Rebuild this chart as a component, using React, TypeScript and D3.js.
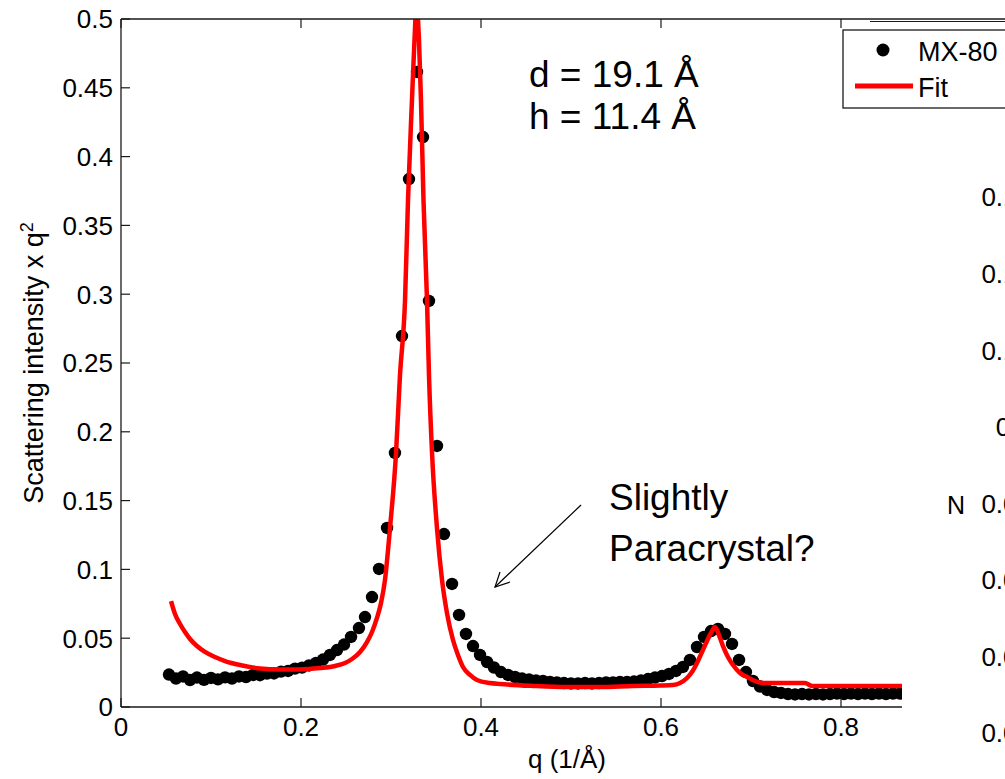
import React from "react";
import * as d3 from "d3";

// ---- data ----
const qData = [
  0.0533, 0.0611, 0.0689, 0.0767, 0.0844, 0.0922, 0.1, 0.1078, 0.1156, 0.1233,
  0.1311, 0.1389, 0.1467, 0.1544, 0.1622, 0.17, 0.1778, 0.1856, 0.1933, 0.2011,
  0.2089, 0.2167, 0.2244, 0.2322, 0.24, 0.2478, 0.2556, 0.2644, 0.2711, 0.2789,
  0.2867, 0.2956, 0.3044, 0.3122, 0.32, 0.3289, 0.3356, 0.3422, 0.3511, 0.3589,
  0.3678, 0.3756, 0.3833, 0.3911, 0.3989, 0.4067, 0.4144, 0.4222, 0.43, 0.4378,
  0.4456, 0.4533, 0.4611, 0.4689, 0.4767, 0.4844, 0.4922, 0.5, 0.5078, 0.5156,
  0.5233, 0.5311, 0.5389, 0.5467, 0.5544, 0.5622, 0.57, 0.5778, 0.5856, 0.5933,
  0.6011, 0.6089, 0.6167, 0.6244, 0.6322, 0.64, 0.6478, 0.6556, 0.6633, 0.6711,
  0.6789, 0.6867, 0.6944, 0.7022, 0.71, 0.7178, 0.7256, 0.7333, 0.7411, 0.7489,
  0.7567, 0.7644, 0.7722, 0.78, 0.7878, 0.7956, 0.8033, 0.8111, 0.8189, 0.8267,
  0.8344, 0.8422, 0.85, 0.8578, 0.8656,
];
const iData = [
  0.0236, 0.0207, 0.0222, 0.0196, 0.0214, 0.0197, 0.0211, 0.0201, 0.0215, 0.0207,
  0.0222, 0.0218, 0.0233, 0.0231, 0.0243, 0.0244, 0.0257, 0.0262, 0.0279, 0.0286,
  0.0302, 0.032, 0.0345, 0.0378, 0.0414, 0.0454, 0.0509, 0.0574, 0.0654, 0.0799,
  0.1003, 0.1301, 0.1846, 0.2696, 0.3837, 0.4615, 0.4142, 0.2951, 0.1897, 0.1257,
  0.0894, 0.0669, 0.0531, 0.0443, 0.0378, 0.0327, 0.0287, 0.0254, 0.0233, 0.0218,
  0.0207, 0.02, 0.0193, 0.0189, 0.0182, 0.0178, 0.0174, 0.0171, 0.0171, 0.0174,
  0.0171, 0.0174, 0.0178, 0.0178, 0.0182, 0.0182, 0.0185, 0.0193, 0.0203, 0.0214,
  0.0225, 0.024, 0.0262, 0.0291, 0.0342, 0.0436, 0.0509, 0.0552, 0.0567, 0.0531,
  0.0458, 0.0342, 0.0254, 0.0189, 0.0149, 0.0124, 0.0109, 0.0102, 0.0094, 0.0091,
  0.0094, 0.0091, 0.0094, 0.0091, 0.0094, 0.0098, 0.0094, 0.0098, 0.0094, 0.0098,
  0.0094, 0.0098, 0.0094, 0.0098, 0.0098,
];
const qFit = [
  0.0556, 0.06, 0.0656, 0.0711, 0.0767, 0.0844, 0.0933, 0.1044, 0.1156, 0.1322,
  0.1544, 0.1767, 0.1989, 0.2211, 0.2378, 0.2489, 0.2567, 0.2656, 0.2733, 0.2789,
  0.2844, 0.2889, 0.2933, 0.2989, 0.3056, 0.31, 0.3156, 0.3189, 0.3233, 0.3261,
  0.3283, 0.3311, 0.3333, 0.3361, 0.34, 0.3422, 0.3456, 0.3511, 0.3567, 0.3622,
  0.3689, 0.3744, 0.38, 0.3878, 0.3956, 0.41, 0.4211, 0.4578, 0.4956, 0.5322,
  0.5689, 0.5989, 0.6133, 0.6211, 0.6289, 0.6344, 0.64, 0.6456, 0.6511, 0.6556,
  0.66, 0.6644, 0.6689, 0.6744, 0.68, 0.6878, 0.6956, 0.7044, 0.7133, 0.76,
  0.7678, 1.0,
];
const iFit = [
  0.077, 0.0676, 0.0603, 0.0545, 0.0494, 0.0443, 0.04, 0.0363, 0.0334, 0.0305,
  0.028, 0.0273, 0.0273, 0.0283, 0.0298, 0.032, 0.0349, 0.04, 0.0472, 0.0545,
  0.0647, 0.0756, 0.0923, 0.1301, 0.1846, 0.2413, 0.2958, 0.3685, 0.4411, 0.4847,
  0.5102, 0.4847, 0.4411, 0.3685, 0.2958, 0.2413, 0.1846, 0.1301, 0.0923, 0.0683,
  0.0487, 0.0378, 0.0291, 0.0233, 0.0196, 0.0174, 0.0167, 0.0153, 0.0145, 0.0145,
  0.0153, 0.0156, 0.016, 0.0174, 0.0211, 0.0254, 0.032, 0.04, 0.048, 0.0538,
  0.0581, 0.0523, 0.0443, 0.0363, 0.0305, 0.0247, 0.0218, 0.0189, 0.0174, 0.0174,
  0.0153, 0.0153,
];
const xTicks = [0, 0.2, 0.4, 0.6, 0.8, 1.0];
const yTicks = [0, 0.05, 0.1, 0.15, 0.2, 0.25, 0.3, 0.35, 0.4, 0.45, 0.5];
const y2Ticks = [0.02, 0.04, 0.06, 0.08, 0.1, 0.12, 0.14, 0.16];
const legendLabels = ["MX-80", "Fit"];
const noteLines = ["d = 19.1 Å", "h = 11.4 Å"];
const arrowText = ["Slightly", "Paracrystal?"];

const FONT = "'Liberation Sans', Arial, Helvetica, sans-serif";
const fmt = (v: number) => String(+v.toFixed(2));

export default function App() {
  const L = 121, R = 1021, T = 19, B = 707, CLIPR = 902;
  const x = d3.scaleLinear().domain([0, 1]).range([L, R]);
  const y = d3.scaleLinear().domain([0, 0.5]).range([B, T]);
  const y2 = d3.scaleLinear().domain([0.02, 0.16]).range([733, 197]);
  const fitPts: [number, number][] = qFit.map((q, i) => [q, iFit[i]]);
  const line = d3
    .line<[number, number]>()
    .x((d) => x(d[0]))
    .y((d) => y(d[1]))
    .curve(d3.curveMonotoneX);
  const axisColor = "#1a1a1a";
  const tickLen = 9;

  return (
    <svg
      width={1005}
      height={779}
      style={{ position: "absolute", left: 0, top: 0, background: "#fff" }}
      fontFamily={FONT}
    >
      <defs>
        <clipPath id="plotClip">
          <rect x={L} y={T} width={CLIPR - L} height={B - T} />
        </clipPath>
      </defs>
      <rect x={0} y={0} width={1005} height={779} fill="#fff" />

      {/* data */}
      <g clipPath="url(#plotClip)">
        {qData.map((q, i) => (
          <circle key={i} cx={x(q)} cy={y(iData[i])} r={6.2} fill="#000" />
        ))}
        <path d={line(fitPts) || ""} fill="none" stroke="#ff0000" strokeWidth={4.5} strokeLinejoin="round" />
      </g>

      {/* frame */}
      <line x1={L} y1={T} x2={L} y2={B} stroke={axisColor} strokeWidth={1.3} />
      <line x1={L} y1={B} x2={CLIPR} y2={B} stroke={axisColor} strokeWidth={1.3} />
      <line x1={L} y1={T} x2={1005} y2={T} stroke={axisColor} strokeWidth={1.3} />
      <line x1={870} y1={T + 2.5} x2={1005} y2={T + 2.5} stroke={axisColor} strokeWidth={1} />

      {/* x ticks */}
      {xTicks.filter((t) => x(t) < CLIPR).map((t) => (
        <g key={"xt" + t}>
          <line x1={x(t)} y1={B} x2={x(t)} y2={B - tickLen} stroke={axisColor} strokeWidth={1.2} />
          <line x1={x(t)} y1={T} x2={x(t)} y2={T + tickLen} stroke={axisColor} strokeWidth={1.2} />
          <text x={x(t)} y={736} fontSize={26} textAnchor="middle" fill="#000">
            {fmt(t)}
          </text>
        </g>
      ))}

      {/* y ticks */}
      {yTicks.map((t) => (
        <g key={"yt" + t}>
          <line x1={L} y1={y(t)} x2={L + tickLen} y2={y(t)} stroke={axisColor} strokeWidth={1.2} />
          <text x={113} y={y(t)} dy="0.36em" fontSize={26} textAnchor="end" fill="#000">
            {fmt(t)}
          </text>
        </g>
      ))}

      {/* axis labels */}
      <text x={567} y={768} fontSize={26} textAnchor="middle" fill="#000">
        q (1/Å)
      </text>
      <text
        transform={`translate(43, ${(T + B) / 2}) rotate(-90)`}
        fontSize={27}
        textAnchor="middle"
        fill="#000"
      >
        Scattering intensity x q
        <tspan dy={-10} fontSize={18}>2</tspan>
      </text>

      {/* annotations */}
      {noteLines.map((s, i) => (
        <text key={s} x={529} y={87 + i * 42} fontSize={37} fill="#000">
          {s}
        </text>
      ))}
      {arrowText.map((s, i) => (
        <text key={s} x={609} y={510 + i * 51} fontSize={37} fill="#000">
          {s}
        </text>
      ))}
      <line x1={581} y1={505} x2={495} y2={587} stroke="#000" strokeWidth={1.2} />
      <polyline points="500,572 495,587 510,582" fill="none" stroke="#000" strokeWidth={1.2} />

      {/* second (overlapping) panel, partially visible */}
      {y2Ticks.map((t) => (
        <text key={"y2" + t} x={1032} y={y2(t)} dy="0.36em" fontSize={26} textAnchor="end" fill="#000">
          {fmt(t)}
        </text>
      ))}
      <text x={956} y={505} dy="0.36em" fontSize={25} textAnchor="middle" fill="#000">
        N
      </text>

      {/* legend */}
      <rect x={843} y={30} width={180} height={78} fill="#fff" stroke={axisColor} strokeWidth={1.3} />
      <circle cx={883} cy={50} r={6.5} fill="#000" />
      <line x1={855} y1={86} x2={913} y2={86} stroke="#ff0000" strokeWidth={5} />
      {legendLabels.map((s, i) => (
        <text key={s} x={918} y={61 + i * 36} fontSize={27} fill="#000">
          {s}
        </text>
      ))}
    </svg>
  );
}
